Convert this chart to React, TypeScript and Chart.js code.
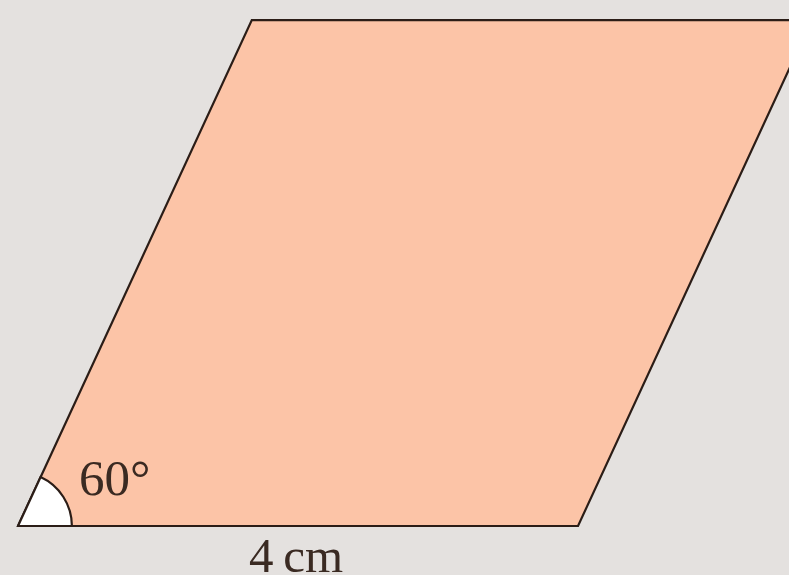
import React, { useEffect, useRef } from "react";
import { Chart, registerables } from "chart.js";

Chart.register(...registerables);

// Parallelogram vertices (cm units)
const upperEdge = [
  { x: 0, y: 0 },
  { x: 1.67, y: 3.46 },
  { x: 5.67, y: 3.46 },
];
const lowerEdge = [
  { x: 0, y: 0 },
  { x: 4, y: 0 },
  { x: 5.67, y: 3.46 },
];
const angleLabel = "60°";
const baseLabel = "4\u2009cm";
const arcRadius = 0.385; // cm

const BG = "#e4e1df";
const FILL = "#fcc4a7";
const STROKE = "#2b1d17";

const figurePlugin = {
  id: "figureExtras",
  beforeDraw(chart: any) {
    const { ctx, width, height } = chart;
    ctx.save();
    ctx.fillStyle = BG;
    ctx.fillRect(0, 0, width, height);
    ctx.restore();
  },
  afterDatasetsDraw(chart: any) {
    const { ctx } = chart;
    const xs = chart.scales.x;
    const ys = chart.scales.y;
    const cx = xs.getPixelForValue(0);
    const cy = ys.getPixelForValue(0);
    const ax = xs.getPixelForValue(upperEdge[1].x);
    const ay = ys.getPixelForValue(upperEdge[1].y);
    const ang = Math.atan2(ay - cy, ax - cx);
    const r = xs.getPixelForValue(arcRadius) - cx;
    ctx.save();
    ctx.beginPath();
    ctx.moveTo(cx, cy);
    ctx.arc(cx, cy, r, 0, ang, true);
    ctx.closePath();
    ctx.fillStyle = "#ffffff";
    ctx.fill();
    ctx.strokeStyle = STROKE;
    ctx.lineWidth = 2.2;
    ctx.stroke();

    ctx.fillStyle = "#3a2a22";
    ctx.font = '51px "Liberation Serif", "DejaVu Serif", serif';
    ctx.textBaseline = "alphabetic";
    ctx.textAlign = "left";
    ctx.fillText(angleLabel, cx + 61, cy - 31);

    const bx = (xs.getPixelForValue(0) + xs.getPixelForValue(lowerEdge[1].x)) / 2;
    ctx.textAlign = "center";
    ctx.font = '49px "Liberation Serif", "DejaVu Serif", serif';
    ctx.fillText(baseLabel, bx - 2, cy + 46);
    ctx.restore();
  },
};

export default function App() {
  const ref = useRef<HTMLCanvasElement | null>(null);
  useEffect(() => {
    if (!ref.current) return;
    const chart = new Chart(ref.current, {
      type: "line",
      data: {
        datasets: [
          {
            data: upperEdge,
            borderColor: STROKE,
            borderWidth: 2.2,
            pointRadius: 0,
            fill: false,
            tension: 0,
          },
          {
            data: lowerEdge,
            borderColor: STROKE,
            borderWidth: 2.2,
            pointRadius: 0,
            fill: "-1",
            backgroundColor: FILL,
            tension: 0,
          },
        ],
      },
      options: {
        responsive: false,
        animation: false,
        layout: { padding: 0 },
        plugins: {
          legend: { display: false },
          tooltip: { enabled: false },
        },
        scales: {
          x: { type: "linear", min: -0.1286, max: 5.507, display: false },
          y: { type: "linear", min: -0.335, max: 3.597, display: false },
        },
      },
      plugins: [figurePlugin],
    });
    return () => chart.destroy();
  }, []);
  return (
    <div style={{ position: "fixed", left: 0, top: 0, width: 789, height: 575, background: BG }}>
      <canvas ref={ref} width={789} height={575} />
    </div>
  );
}
